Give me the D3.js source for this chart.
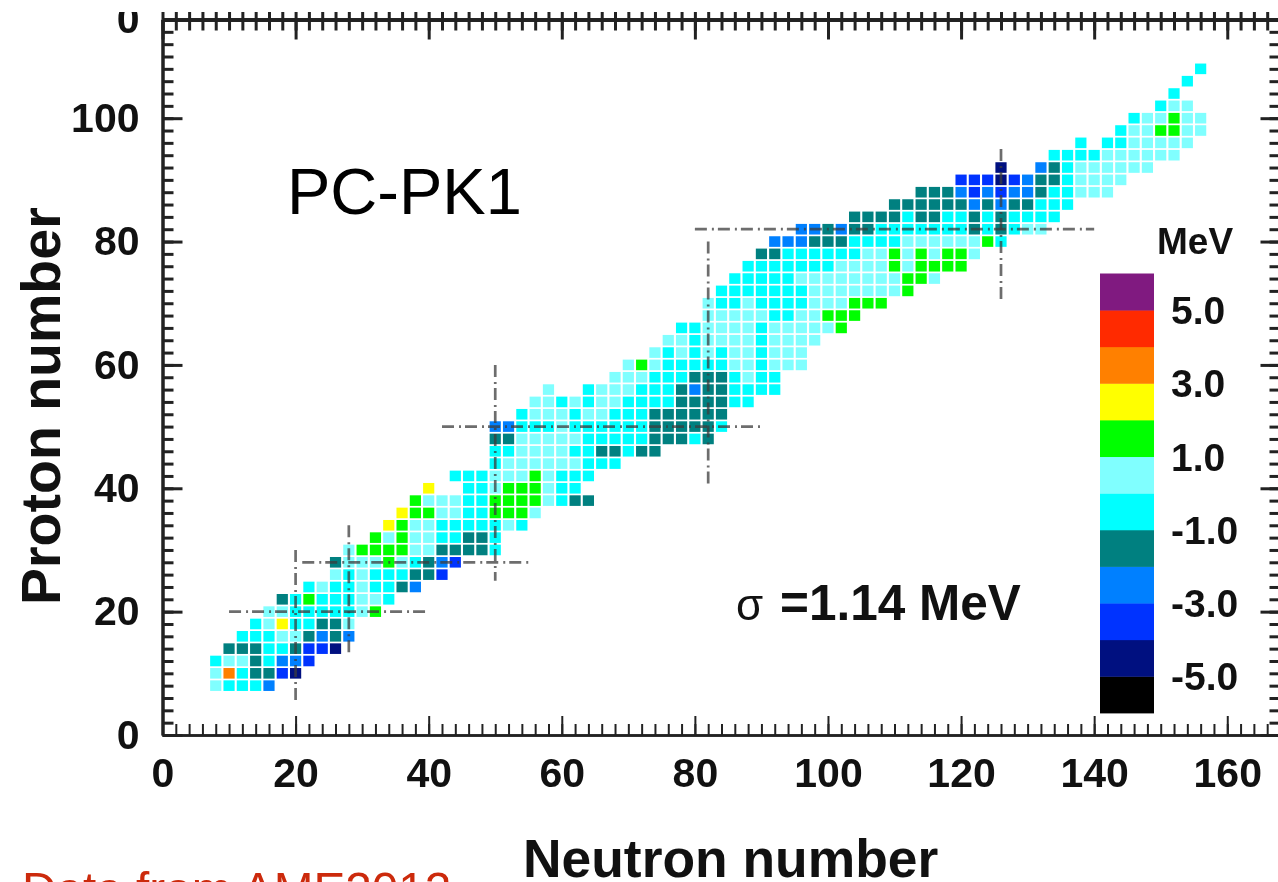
<!DOCTYPE html>
<html>
<head>
<meta charset="utf-8">
<script src="https://cdnjs.cloudflare.com/ajax/libs/d3/7.8.5/d3.min.js"></script>
<style>
  html, body { margin: 0; padding: 0; background: #fff; overflow: hidden; }
  svg { display: block; filter: blur(0.7px); font-family: "Liberation Sans", Arial, sans-serif; }
</style>
</head>
<body>
<svg id="main_graph" width="1278" height="882"></svg>

<script>
// residual in MeV per even-even nucleus, one row per proton number, n = first neutron number of the row
var protonNumbers = [8,10,12,14,16,18,20,22,24,26,28,30,32,34,36,38,40,42,44,46,48,50,52,54,56,58,60,62,64,66,68,70,72,74,76,78,80,82,84,86,88,90,92,94,96,98,100,102,104,106,108];
var firstNeutron  = [8,8,8,10,12,14,16,18,22,26,26,28,32,34,36,38,40,44,50,50,50,50,54,56,58,68,70,74,76,78,82,82,84,86,88,90,92,96,104,110,114,120,126,134,138,144,146,150,152,154,156];
var residuals = [
  [.5,-.5,-.5,-.5,-2.5],
  [.5,3.5,-.5,-1.5,-1.5,-3.5,-4.5],
  [-.5,.5,.5,-1.5,-.5,-2.5,-2.5,-3.5],
  [-1.5,-1.5,-1.5,-.5,-.5,-1.5,-3.5,-3.5,-4.5],
  [-.5,-.5,-.5,.5,.5,-1.5,-2.5,-1.5,-2.5],
  [-.5,.5,2.5,-.5,-.5,-1.5,-1.5,.5],
  [.5,.5,-.5,-.5,-.5,-.5,-.5,.5,1.5],
  [-1.5,-.5,1.5,-.5,-.5,-.5,.5,.5,-.5],
  [-.5,.5,-.5,-.5,.5,-.5,-.5,-1.5,-2.5],
  [.5,-.5,.5,-.5,-.5,-.5,-1.5,-1.5,-3.5],
  [-1.5,.5,.5,.5,1.5,.5,-.5,-1.5,-2.5,-3.5],
  [.5,1.5,1.5,1.5,1.5,.5,.5,-1.5,-1.5,-1.5,-1.5,-.5],
  [1.5,.5,1.5,.5,.5,-.5,-.5,-1.5,-1.5,-.5],
  [2.5,1.5,.5,.5,-.5,-.5,-.5,-.5,-.5,.5,-.5],
  [2.5,1.5,1.5,.5,.5,-.5,-.5,1.5,1.5,1.5,.5],
  [1.5,.5,.5,.5,-.5,-.5,1.5,1.5,1.5,1.5,.5,-.5,-1.5,-1.5],
  [2.5,null,null,-.5,-.5,.5,1.5,1.5,1.5,.5,-.5,-.5],
  [-.5,-.5,-.5,.5,.5,.5,1.5,.5,-.5,-.5,-.5],
  [-.5,.5,.5,.5,.5,.5,.5,-.5,-.5,-.5],
  [-.5,-.5,.5,.5,.5,.5,-.5,-.5,-1.5,-1.5,-.5,-1.5,-1.5],
  [-1.5,-1.5,.5,.5,.5,.5,.5,-.5,-.5,-.5,-.5,-.5,-1.5,-1.5,-1.5,-.5,-1.5],
  [-2.5,-2.5,-.5,-.5,-.5,.5,-.5,-.5,-.5,-.5,-.5,-.5,-1.5,-1.5,-1.5,-1.5,-1.5,-.5],
  [-.5,.5,.5,.5,-.5,.5,.5,-.5,-.5,-.5,-1.5,-1.5,-1.5,-1.5,-1.5,-1.5],
  [.5,.5,-.5,.5,-.5,.5,.5,-.5,-.5,-.5,-.5,-1.5,-1.5,-1.5,-1.5,-.5,-.5],
  [.5,null,null,-.5,.5,.5,.5,-.5,-.5,-.5,-1.5,-2.5,-1.5,-1.5,-.5,-.5,-.5,-.5],
  [.5,.5,.5,-.5,-.5,-.5,-1.5,-1.5,-1.5,-.5,.5,-.5,-.5],
  [.5,1.5,.5,-.5,-.5,-.5,-.5,-.5,.5,.5,-.5,.5,.5,.5],
  [.5,-.5,.5,-.5,.5,-.5,.5,.5,-.5,.5,.5,.5],
  [.5,.5,-.5,.5,.5,.5,.5,-.5,.5,.5,.5,.5],
  [-.5,-.5,.5,.5,.5,.5,-.5,.5,.5,.5,.5,.5,1.5],
  [.5,.5,.5,.5,.5,-.5,-.5,.5,.5,1.5,1.5,1.5],
  [.5,-.5,-.5,.5,-.5,-.5,-.5,-.5,.5,.5,.5,1.5,1.5,1.5],
  [-.5,-.5,-.5,-.5,-.5,-.5,-.5,.5,.5,.5,.5,.5,.5,.5,1.5],
  [-.5,-.5,-.5,-.5,-.5,.5,.5,.5,.5,.5,.5,.5,.5,1.5,1.5,.5],
  [-.5,-.5,-.5,-.5,-.5,-.5,-.5,.5,.5,.5,.5,1.5,.5,1.5,1.5,1.5,1.5],
  [-1.5,-1.5,-.5,-.5,-.5,-.5,-.5,-.5,.5,.5,1.5,.5,1.5,.5,1.5,1.5,.5],
  [-2.5,-2.5,-2.5,-1.5,-1.5,-1.5,-.5,-.5,-.5,-.5,.5,.5,.5,.5,.5,.5,1.5,-.5],
  [-2.5,-2.5,-1.5,-2.5,-1.5,-1.5,-.5,-.5,-.5,-.5,-.5,-.5,-.5,-1.5,-.5,-1.5,-.5,.5,.5],
  [-1.5,-1.5,-1.5,-1.5,-.5,-1.5,-1.5,-.5,-.5,-1.5,-.5,-1.5,-.5,-.5,-.5,-.5],
  [-1.5,-1.5,-1.5,-1.5,-1.5,-1.5,-2.5,-1.5,-2.5,-1.5,-1.5,-.5,-.5,-.5],
  [-1.5,-1.5,-1.5,-2.5,-3.5,-2.5,-3.5,-2.5,-2.5,-1.5,-.5,-.5,.5,.5,.5],
  [-3.5,-3.5,-3.5,-4.5,-3.5,-2.5,-1.5,-1.5,-.5,.5,.5,.5,.5],
  [-4.5,null,null,-2.5,-1.5,-.5,.5,.5,.5,.5,.5,.5],
  [-.5,-.5,-.5,-.5,.5,.5,.5,.5,.5,.5],
  [-.5,null,-.5,-.5,.5,.5,.5,.5,.5],
  [-.5,.5,.5,1.5,1.5,.5,.5],
  [-.5,.5,.5,1.5,.5,.5],
  [-.5,.5,.5],
  [-.5],
  [-.5],
  [-.5]
];

// colour bar: upper edges of the 1 MeV bins, bottom colour first
var binEdges   = [-5,-4,-3,-2,-1,0,1,2,3,4,5];
var binColors  = ["#000000","#001080","#0033ff","#0080ff","#008080","#00ffff","#80ffff","#00ff00","#ffff00","#ff8000","#ff2a00","#801a80"];
var barLabels  = [5,3,1,-1,-3,-5];

// shell closures: [magic number, from, to]
var magicZ = [[20,10,40],[28,21,55],[50,42,90],[82,80,140]];
var magicN = [[20,5,30],[28,13,34],[50,25,60],[82,40,80],[126,70,95]];

var xMajor = [0,20,40,60,80,100,120,140,160];
var yMajor = [0,20,40,60,80,100];

var svg = d3.select("svg");

var x = d3.scaleLinear().domain([0,168]).range([162.5,1280.5]);
var y = d3.scaleLinear().domain([0,116]).range([735,19.5]);
var color = d3.scaleThreshold().domain(binEdges).range(binColors);

var cells = [];
protonNumbers.forEach(function(z, i) {
  residuals[i].forEach(function(v, j) {
    if (v !== null) cells.push({ z: z, n: firstNeutron[i] + 2*j, v: v });
  });
});

var cw = 11.2, ch = 10.6;
svg.append("g").selectAll("rect")
  .data(cells)
  .enter().append("rect")
  .attr("x"     , function(d) { return x(d.n) - cw/2 })
  .attr("y"     , function(d) { return y(d.z) - ch/2 })
  .attr("width" , cw)
  .attr("height", ch)
  .attr("fill"  , function(d) { return color(d.v) });

// dash-dot lines at the magic numbers
var magic = svg.append("g")
  .attr("stroke", "#3c3c3c").attr("stroke-opacity", 0.75)
  .attr("stroke-width", 2.7).attr("stroke-dasharray", "12 5 2 4");
magic.selectAll("line.h").data(magicZ).enter().append("line").attr("class","h")
  .attr("x1", function(d) { return x(d[1]) }).attr("x2", function(d) { return x(d[2]) })
  .attr("y1", function(d) { return y(d[0]) }).attr("y2", function(d) { return y(d[0]) });
magic.selectAll("line.v").data(magicN).enter().append("line").attr("class","v")
  .attr("x1", function(d) { return x(d[0]) }).attr("x2", function(d) { return x(d[0]) })
  .attr("y1", function(d) { return y(d[2]) }).attr("y2", function(d) { return y(d[1]) });

// axes: minor ticks every 2, major every 20
var xMinor = d3.range(0,169,2), yMinor = d3.range(0,117,2);
function frame(sel, axis, width, tick) {
  sel.call(axis);
  sel.selectAll("path").attr("stroke", "#222").attr("stroke-width", width);
  sel.selectAll("line").attr("stroke", "#222").attr("stroke-width", tick);
  sel.selectAll("text").remove();
}
var bottomY = y(0), topY = y(116), leftX = x(0), rightX = x(168);

frame(svg.append("g").attr("transform","translate(0,"+bottomY+")"), d3.axisTop(x).tickValues(xMinor).tickSize(11).tickSizeOuter(0), 2.4, 2);
frame(svg.append("g").attr("transform","translate(0,"+bottomY+")"), d3.axisTop(x).tickValues(xMajor).tickSize(19).tickSizeOuter(0), 2.4, 2);
frame(svg.append("g").attr("transform","translate(0,"+topY+")"), d3.axisBottom(x).tickValues(xMinor).tickSize(11).tickSizeOuter(0), 3.4, 3);
frame(svg.append("g").attr("transform","translate(0,"+topY+")"), d3.axisTop(x).tickValues(xMinor).tickSize(8).tickSizeOuter(0), 3.4, 3);
frame(svg.append("g").attr("transform","translate(0,"+topY+")"), d3.axisBottom(x).tickValues(xMajor).tickSize(20).tickSizeOuter(0), 3.4, 3);
frame(svg.append("g").attr("transform","translate("+leftX+",0)"), d3.axisRight(y).tickValues(yMinor).tickSize(11).tickSizeOuter(0), 3, 3);
frame(svg.append("g").attr("transform","translate("+leftX+",0)"), d3.axisRight(y).tickValues(yMajor).tickSize(20).tickSizeOuter(0), 3, 3);
frame(svg.append("g").attr("transform","translate("+rightX+",0)"), d3.axisLeft(y).tickValues(yMinor).tickSize(11).tickSizeOuter(0), 3, 3);
frame(svg.append("g").attr("transform","translate("+rightX+",0)"), d3.axisLeft(y).tickValues(yMajor).tickSize(20).tickSizeOuter(0), 3, 3);

// tick labels, the clipped "0" at the top of the frame is in the original too
var xLabels = svg.append("g").attr("transform","translate(0,"+bottomY+")")
  .call(d3.axisBottom(x).tickValues(xMajor).tickSize(0).tickPadding(23));
var yLabels = svg.append("g").attr("transform","translate("+leftX+",0)")
  .call(d3.axisLeft(y).tickValues(yMajor.concat([116])).tickSize(0).tickPadding(23)
    .tickFormat(function(d) { return d == 116 ? "0" : d }));
[xLabels, yLabels].forEach(function(g) {
  g.select("path").remove();
  g.selectAll("text").attr("font-family", "Liberation Sans").attr("font-size", 41)
    .attr("font-weight", "bold").attr("fill", "#111");
});

// colour bar
var bar = d3.scaleLinear().domain([-6,6]).range([713,273.5]);
var barEdges = [-6].concat(binEdges);
svg.append("g").selectAll("rect")
  .data(barEdges)
  .enter().append("rect")
  .attr("x"     , 1100)
  .attr("width" , 54)
  .attr("y"     , function(d) { return bar(d+1) })
  .attr("height", function(d) { return bar(d) - bar(d+1) + 0.4 })
  .attr("fill"  , function(d) { return color(d + 0.5) });

svg.append("g").selectAll("text")
  .data(barLabels)
  .enter().append("text")
  .attr("x", 1171)
  .attr("y", function(d) { return bar(d) })
  .attr("dy", "0.36em")
  .attr("font-size", 39).attr("font-weight", "bold").attr("fill", "#111")
  .text(function(d) { return d.toFixed(1) });

function label(tx, ty, str, size, weight, fill) {
  return svg.append("text").attr("x", tx).attr("y", ty).text(str)
    .attr("font-size", size).attr("font-weight", weight).attr("fill", fill);
}
label(1157, 254, "MeV", 37, "bold", "#111");
label(287, 214, "PC-PK1", 65, "normal", "#000");
label(736, 620, "σ", 44, "normal", "#111");
label(780, 620, "=1.14 MeV", 49.5, "bold", "#111");
label(523, 877, "Neutron number", 53.4, "bold", "#111");
label(22, 906, "Data from AME2012", 47.7, "normal", "#cc2a0c");
label(0, 0, "Proton number", 55.5, "bold", "#111")
  .attr("transform", "translate(60,605) rotate(-90)");

// the original is cropped just above the frame
svg.append("rect").attr("x", 0).attr("y", 0).attr("width", 1278).attr("height", 12).attr("fill", "#fff");
</script>
</body>
</html>
